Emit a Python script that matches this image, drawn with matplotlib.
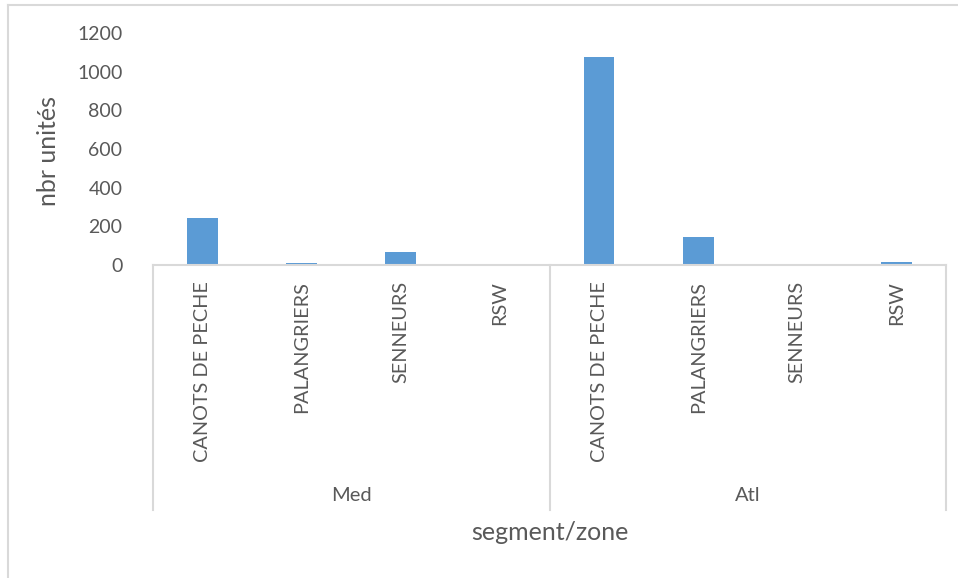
import matplotlib
matplotlib.use("Agg")
import matplotlib.pyplot as plt
from matplotlib.lines import Line2D

zones = ["Med", "Atl"]
segments = ["CANOTS DE PECHE", "PALANGRIERS", "SENNEURS", "RSW"]
med_values = [245, 10, 65, 0]
atl_values = [1075, 145, 0, 15]
y_ticks = [0, 200, 400, 600, 800, 1000, 1200]

bar_color = "#5B9BD5"
text_color = "#595959"
line_color = "#D9D9D9"
plt.rcParams["font.family"] = ["Lato", "DejaVu Sans"]

fig = plt.figure(figsize=(9.58, 5.78), dpi=100)
ax_left, ax_bottom, ax_width, ax_height = 0.1597, 0.5415, 0.8278, 0.4014
ax = fig.add_axes([ax_left, ax_bottom, ax_width, ax_height])

values = med_values + atl_values
labels = segments * len(zones)
n = len(values)
x = list(range(n))
ax.bar(x, values, width=0.31, color=bar_color, zorder=2)
ax.set_xlim(-0.5, n - 0.5)
ax.set_ylim(0, 1200)
ax.set_yticks(y_ticks)
ax.set_yticklabels([str(v) for v in y_ticks], fontsize=14, color=text_color)
ax.tick_params(axis="y", length=0, pad=22)
ax.tick_params(axis="x", length=0)
ax.set_xticks([])
for s in ["top", "right", "left"]:
    ax.spines[s].set_visible(False)
ax.spines["bottom"].set_color(line_color)
ax.spines["bottom"].set_linewidth(1.5)

ax.set_ylabel("nbr unités", fontsize=18, color=text_color)
ax.yaxis.set_label_coords(-0.117, 0.49)

# multi-level category axis below the plot area
trans = ax.get_xaxis_transform()
fig_h = 578
ax_bottom_px = 265
ax_h_px = 232

def yfrac(ypx):
    return (ax_bottom_px - ypx) / ax_h_px

for i, lab in enumerate(labels):
    ax.text(i, yfrac(281), lab, rotation=90, ha="center", va="top",
            fontsize=14.3, color=text_color, transform=trans, clip_on=False)

for b in range(len(zones) + 1):
    xb = -0.5 + b * len(segments)
    ax.add_line(Line2D([xb, xb], [0, yfrac(510)], color=line_color, lw=1.5,
                       transform=trans, clip_on=False))

for z, zone in enumerate(zones):
    xc = z * len(segments) + (len(segments) - 1) / 2
    ax.text(xc, yfrac(495), zone, ha="center", va="center", fontsize=14.5,
            color=text_color, transform=trans, clip_on=False)

fig.text(ax_left + ax_width / 2, 1 - 532 / fig_h, "segment/zone", ha="center",
         va="center", fontsize=18, color=text_color)

# chart area frame
fig.add_artist(Line2D([8 / 958, 8 / 958], [0, 1 - 5 / fig_h], color=line_color,
                      lw=1.5, transform=fig.transFigure))
fig.add_artist(Line2D([8 / 958, 1], [1 - 5 / fig_h, 1 - 5 / fig_h], color=line_color,
                      lw=1.5, transform=fig.transFigure))

fig.savefig("out.png", dpi=100, facecolor="white")
